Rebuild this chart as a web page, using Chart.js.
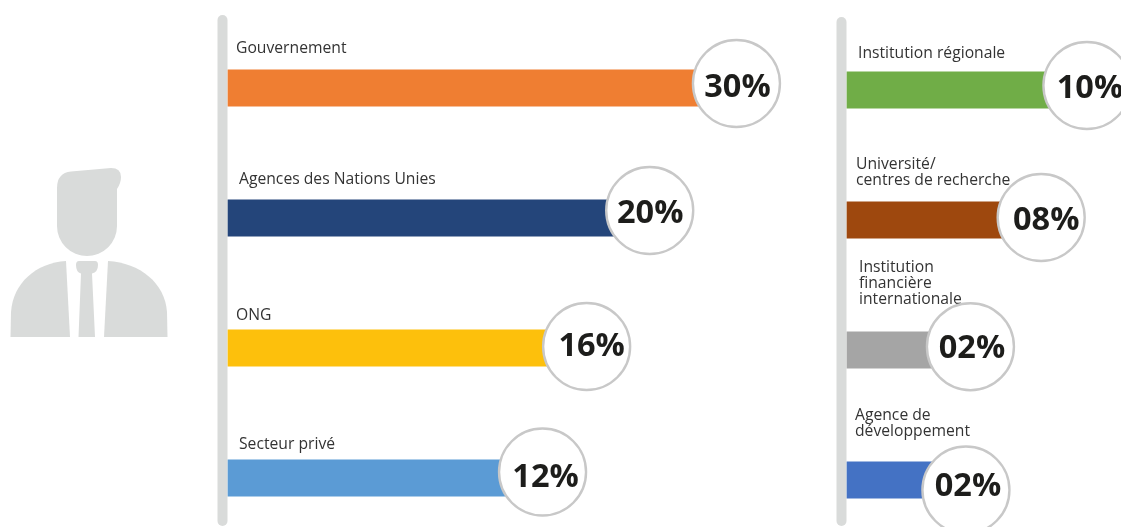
<!DOCTYPE html>
<html lang="fr">
<head>
<meta charset="utf-8">
<title>Répartition par type d'organisation</title>
<script src="https://cdn.jsdelivr.net/npm/chart.js@4/dist/chart.umd.js"></script>
<style>
  html, body { margin: 0; padding: 0; background: #fff; overflow: hidden; }
  #stage { position: relative; width: 1121px; height: 527px; }
  #stage canvas, #stage svg { position: absolute; left: 0; top: 0; }
</style>
</head>
<body>
<div id="stage">
  <svg width="1121" height="527" viewBox="0 0 1121 527" fill="#d9dbda" aria-hidden="true">
    <!-- head with swept hair -->
    <path d="M57 188 Q57 173 71 171.5 L111 168 Q121 168 121 177 Q121 183 117 189 L117 226 A30 30 0 0 1 57 226 Z"/>
    <!-- jacket -->
    <path d="M66 261 L70 337 L10.5 337 L11 312 C13 283 36 263 66 261 Z"/>
    <path d="M108 261 L104 337 L167.5 337 L167 312 C165 283 140 263 108 261 Z"/>
    <!-- tie -->
    <path d="M79 261 L95 261 Q98 261 98 265 Q98 272 92 273.5 L95 337 L78.5 337 L81 273.5 Q76 272 76 265 Q76 261 79 261 Z"/>
  </svg>
  <canvas id="leftChart" width="1121" height="527"></canvas>
  <canvas id="rightChart" width="1121" height="527"></canvas>
</div>
<script>
// Share of respondents by organisation type, two panels
const leftCategories = ['Gouvernement', 'Agences des Nations Unies', 'ONG', 'Secteur privé'];
const leftValues = [30, 20, 16, 12];
const leftPercentLabels = ['30%', '20%', '16%', '12%'];
const leftColors = ['#ef7e32', '#24457a', '#fdc00c', '#5b9bd5'];

const rightCategories = ['Institution régionale', 'Université/\ncentres de recherche', 'Institution\nfinancière\ninternationale', 'Agence de\ndéveloppement'];
const rightValues = [10, 8, 2, 2];
const rightPercentLabels = ['10%', '08%', '02%', '02%'];
const rightColors = ['#70ad47', '#9e480e', '#a5a5a5', '#4472c4'];

// Panel layout: caption anchors, badge placement and the grey rule on the axis
const leftLayout = {
  padding: { left: 228, right: 321, top: 88, bottom: 49 },
  range: { min: -17.2, max: 35.9 },
  rule: { top: 15, bottom: 526 },
  captionX: [236, 239, 236, 239],
  captionY: [48.5, 179.5, 315.5, 444.5],
  badgeDx: [0, 21, 1, 0],
  badgeDy: [-4.5, -7.5, -1.5, -6],
  textDx: [1, 0.5, 5, 3],
  textDy: [2.3, 1.7, -1.5, 3.8]
};
const rightLayout = {
  padding: { left: 847, right: 0, top: 90, bottom: 47 },
  range: { min: -6.13, max: 12.29 },
  rule: { top: 17, bottom: 526 },
  captionX: [858, 856, 859, 855],
  captionY: [53.5, 164.5, 267.5, 415.5],
  badgeDx: [0, -16, 2.5, -2],
  badgeDy: [-4.5, -2.5, -3.3, 10],
  textDx: [3, 5, 1.5, 2],
  textDy: [1.7, 2, 0, -5]
};

const BADGE_RADIUS = 43.5;
const TEXT_MIDDLE_SHIFT = 1.7;

// Draws the axis rule, the captions above each bar and the percentage badges
const panelDecor = {
  id: 'panelDecor',
  beforeDatasetsDraw(chart, args, opts) {
    const { ctx, chartArea } = chart;
    ctx.save();
    ctx.fillStyle = '#d9dbda';
    ctx.beginPath();
    ctx.roundRect(chartArea.left - 10.5, opts.layout.rule.top, 10, opts.layout.rule.bottom - opts.layout.rule.top, 5);
    ctx.fill();
    ctx.restore();
  },
  afterDatasetsDraw(chart, args, opts) {
    const { ctx, scales } = chart;
    const { layout, percentLabels } = opts;
    const dataset = chart.data.datasets[0];
    ctx.save();
    chart.data.labels.forEach((label, i) => {
      // caption, one line per break
      ctx.font = '15.7px "Open Sans"';
      ctx.fillStyle = '#333333';
      ctx.textAlign = 'left';
      ctx.textBaseline = 'middle';
      label.split('\n').forEach((line, n) => {
        ctx.fillText(line, layout.captionX[i], layout.captionY[i] + n * 16);
      });
      // badge sitting on the end of the bar
      const x = scales.x.getPixelForValue(dataset.data[i]) + layout.badgeDx[i];
      const y = scales.y.getPixelForValue(i) + layout.badgeDy[i];
      ctx.beginPath();
      ctx.arc(x, y, BADGE_RADIUS, 0, Math.PI * 2);
      ctx.fillStyle = '#ffffff';
      ctx.fill();
      ctx.lineWidth = 2.4;
      ctx.strokeStyle = '#c8c8c8';
      ctx.stroke();
      ctx.font = 'bold 32.5px "Open Sans"';
      ctx.fillStyle = '#1d1d1b';
      ctx.textAlign = 'center';
      ctx.fillText(percentLabels[i], x + layout.textDx[i], y + layout.textDy[i] + TEXT_MIDDLE_SHIFT);
    });
    ctx.restore();
  }
};

function buildPanel(canvasId, categories, values, colors, percentLabels, layout) {
  return new Chart(document.getElementById(canvasId), {
    type: 'bar',
    data: {
      labels: categories,
      datasets: [{
        data: values,
        backgroundColor: colors,
        base: layout.range.min,
        barThickness: 36.5,
        borderWidth: 0,
        clip: false
      }]
    },
    options: {
      indexAxis: 'y',
      responsive: false,
      animation: false,
      layout: { padding: layout.padding },
      scales: {
        x: { type: 'linear', display: false, min: layout.range.min, max: layout.range.max },
        y: { type: 'category', display: false, offset: false }
      },
      plugins: {
        legend: { display: false },
        tooltip: { enabled: false },
        panelDecor: { layout, percentLabels }
      }
    },
    plugins: [panelDecor]
  });
}

buildPanel('leftChart', leftCategories, leftValues, leftColors, leftPercentLabels, leftLayout);
buildPanel('rightChart', rightCategories, rightValues, rightColors, rightPercentLabels, rightLayout);
</script>
</body>
</html>
